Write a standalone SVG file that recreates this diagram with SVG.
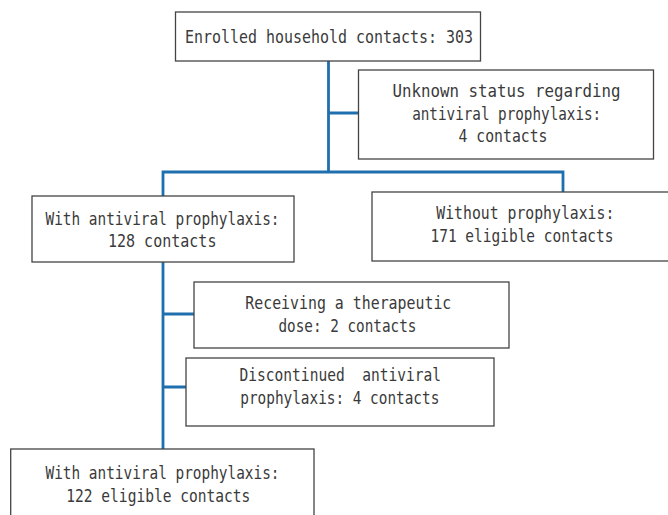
<svg xmlns="http://www.w3.org/2000/svg" width="668" height="515" viewBox="0 0 668 515">
<style>
.box{fill:#fff;stroke:#444;stroke-width:1.3}
.t{font-family:"DejaVu Sans Mono","Liberation Mono",monospace;font-size:17px;fill:#3a3a3a;text-anchor:middle}
.c{stroke:#1f6fae;stroke-width:2.8;fill:none}
</style>
<rect width="668" height="515" fill="#fff"/>
<g id="connectors" class="c">
<path d="M328.5 61V172M328.5 113H358.5M161.6 172H564.4M163 172V196M563 172V192M163 262V449M163 314H194M163 387H186"/>
</g>
<g id="enrolled">
<rect class="box" x="175.5" y="12" width="305" height="49"/>
<text class="t" x="329" y="43" textLength="288" lengthAdjust="spacingAndGlyphs">Enrolled household contacts: 303</text>
</g>
<g id="unknown">
<rect class="box" x="358.5" y="70" width="295" height="89"/>
<text class="t" x="506.5" y="97" textLength="228" lengthAdjust="spacingAndGlyphs">Unknown status regarding</text>
<text class="t" x="506.7" y="119.5" textLength="189" lengthAdjust="spacingAndGlyphs">antiviral prophylaxis:</text>
<text class="t" x="503" y="142" textLength="89" lengthAdjust="spacingAndGlyphs">4 contacts</text>
</g>
<g id="with">
<rect class="box" x="32" y="196" width="262" height="66"/>
<text class="t" x="162.5" y="224.5" textLength="234" lengthAdjust="spacingAndGlyphs">With antiviral prophylaxis:</text>
<text class="t" x="162.2" y="247" textLength="108.5" lengthAdjust="spacingAndGlyphs">128 contacts</text>
</g>
<g id="without">
<rect class="box" x="372" y="192" width="302" height="69"/>
<text class="t" x="525.3" y="218.5" textLength="178" lengthAdjust="spacingAndGlyphs">Without prophylaxis:</text>
<text class="t" x="522" y="242" textLength="183" lengthAdjust="spacingAndGlyphs">171 eligible contacts</text>
</g>
<g id="receiving">
<rect class="box" x="194" y="282" width="315" height="66"/>
<text class="t" x="348.3" y="308.5" textLength="206" lengthAdjust="spacingAndGlyphs">Receiving a therapeutic</text>
<text class="t" x="347.5" y="332" textLength="138" lengthAdjust="spacingAndGlyphs">dose: 2 contacts</text>
</g>
<g id="discontinued">
<rect class="box" x="186" y="358" width="308" height="68"/>
<text class="t" x="340.3" y="381" textLength="201.5" lengthAdjust="spacingAndGlyphs" xml:space="preserve">Discontinued  antiviral</text>
<text class="t" x="339.8" y="403.5" textLength="199" lengthAdjust="spacingAndGlyphs">prophylaxis: 4 contacts</text>
</g>
<g id="eligible">
<rect class="box" x="10.7" y="449" width="303.3" height="80"/>
<text class="t" x="162.5" y="479.3" textLength="234" lengthAdjust="spacingAndGlyphs">With antiviral prophylaxis:</text>
<text class="t" x="158.3" y="502" textLength="184" lengthAdjust="spacingAndGlyphs">122 eligible contacts</text>
</g>
</svg>
